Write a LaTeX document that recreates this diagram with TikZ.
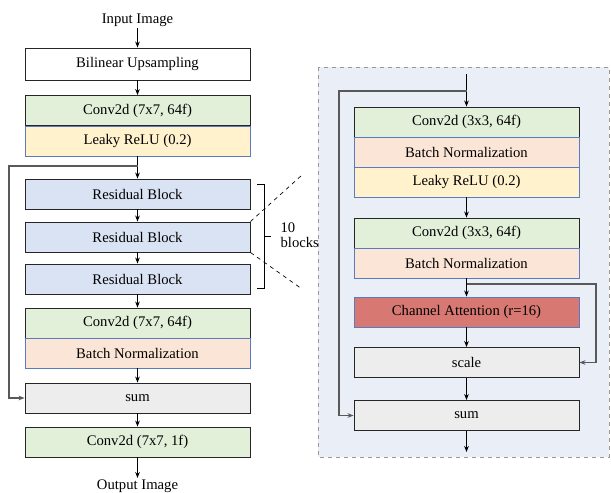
\documentclass[tikz,border=0pt]{standalone}
\usepackage{fontspec}
\setmainfont{Liberation Serif}
\usepackage{xcolor}
\usepackage{tikz}
\usetikzlibrary{arrows.meta}
\definecolor{convgreen}{HTML}{E2F0D9}
\definecolor{reluyellow}{HTML}{FFF2CC}
\definecolor{normpeach}{HTML}{FBE5D6}
\definecolor{resblue}{HTML}{DAE3F3}
\definecolor{attred}{HTML}{D87872}
\definecolor{opgray}{HTML}{EDEDED}
\definecolor{panelblue}{HTML}{EAEEF7}
\definecolor{edgeblue}{HTML}{5B7BC0}
\tikzstyle{label}=[inner sep=1pt]
\tikzstyle{layer}=[draw=black!85, line width=0.7pt, shape=rectangle, inner sep=0pt, minimum width=168.75pt, minimum height=22.5pt]
\tikzstyle{conv}=[style=layer, fill=convgreen]
\tikzstyle{relu}=[style=layer, fill=reluyellow, draw=edgeblue]
\tikzstyle{norm}=[style=layer, fill=normpeach, draw=edgeblue]
\tikzstyle{res}=[style=layer, fill=resblue]
\tikzstyle{attention}=[style=layer, fill=attred, draw=edgeblue]
\tikzstyle{op}=[style=layer, fill=opgray]
\tikzstyle{arrow edge}=[-{Stealth[length=4.5pt,width=3.5pt]}, line width=0.6pt]
\tikzstyle{skip edge}=[-{Stealth[length=4.5pt,width=3.5pt]}, line width=1.1pt, draw=black!65]
\tikzstyle{dashed edge}=[-, dashed, line width=0.5pt]
\pgfdeclarelayer{nodelayer}
\pgfdeclarelayer{edgelayer}
\pgfsetlayers{main,nodelayer,edgelayer}

\begin{document}
\begin{tikzpicture}[x=0.75pt, y=-0.75pt, every node/.style={font=\fontsize{11}{11.5}\selectfont}]
	\useasboundingbox (0,0) rectangle (611,493);
	% residual block panel
	\draw [fill=panelblue, draw=black!40, dashed, line width=0.7pt] (318,67) rectangle (609,457);
	\begin{pgfonlayer}{nodelayer}
		% generator
		\node [style=label] (0) at (137.5, 20) {Input Image};
		\node [style=layer, fill=white, minimum height=24pt] (1) at (137.5, 64) {Bilinear Upsampling};
		\node [style=conv] (2) at (137.5, 110.5) {Conv2d (7x7, 64f)};
		\node [style=relu] (3) at (137.5, 141) {Leaky ReLU (0.2)};
		\node [style=res] (4) at (137.5, 194) {Residual Block};
		\node [style=res] (5) at (137.5, 237) {Residual Block};
		\node [style=res] (6) at (137.5, 279) {Residual Block};
		\node [style=conv] (7) at (137.5, 323) {Conv2d (7x7, 64f)};
		\node [style=norm] (8) at (137.5, 353) {Batch Normalization};
		\node [style=op] (9) at (137.5, 398) {sum};
		\node [style=conv] (10) at (137.5, 442) {Conv2d (7x7, 1f)};
		\node [style=label] (11) at (137.5, 486) {Output Image};
		\node [style=label, anchor=west, align=left] (27) at (279, 235) {10\\blocks};
		% residual block
		\node [style=conv] (12) at (466.5, 122) {Conv2d (3x3, 64f)};
		\node [style=norm] (13) at (466.5, 152) {Batch Normalization};
		\node [style=relu] (14) at (466.5, 182) {Leaky ReLU (0.2)};
		\node [style=conv] (15) at (466.5, 233) {Conv2d (3x3, 64f)};
		\node [style=norm] (16) at (466.5, 263) {Batch Normalization};
		\node [style=attention] (17) at (466.5, 312) {Channel Attention (r=16)};
		\node [style=op] (18) at (466.5, 362.5) {scale};
		\node [style=op] (19) at (466.5, 415.5) {sum};
		\coordinate (20) at (9, 166);
		\coordinate (21) at (466.5, 74);
		\coordinate (22) at (339, 91);
		\coordinate (23) at (596, 284);
		\coordinate (24) at (466.5, 452);
		\coordinate (25) at (302, 175);
		\coordinate (26) at (302, 289);
	\end{pgfonlayer}
	\begin{pgfonlayer}{edgelayer}
		\draw [style=arrow edge] (0) to (1);
		\draw [style=arrow edge] (1) to (2);
		\draw [style=arrow edge] (3) to (4);
		\draw [style=arrow edge] (4) to (5);
		\draw [style=arrow edge] (5) to (6);
		\draw [style=arrow edge] (6) to (7);
		\draw [style=arrow edge] (8) to (9);
		\draw [style=arrow edge] (9) to (10);
		\draw [style=arrow edge] (10) to (11);
		\draw [style=skip edge] (3.south |- 20) -- (20) |- (9.west);
		\draw [style=dashed edge] (5.north east) to (25);
		\draw [style=dashed edge] (5.south east) to (26);
		\draw [line width=0.6pt] (257,184) -- (264,184) -- (264,288) -- (257,288);
		\draw [line width=0.6pt] (264,236) -- (271,236);
		\draw [style=arrow edge] (21) to (12);
		\draw [style=skip edge] (21 |- 22) -- (22) |- (19.west);
		\draw [style=arrow edge] (14) to (15);
		\draw [style=arrow edge] (16) to (17);
		\draw [style=skip edge] (16.south |- 23) -- (23) |- (18.east);
		\draw [style=arrow edge] (17) to (18);
		\draw [style=arrow edge] (18) to (19);
		\draw [style=arrow edge] (19) to (24);
	\end{pgfonlayer}
\end{tikzpicture}
\end{document}
